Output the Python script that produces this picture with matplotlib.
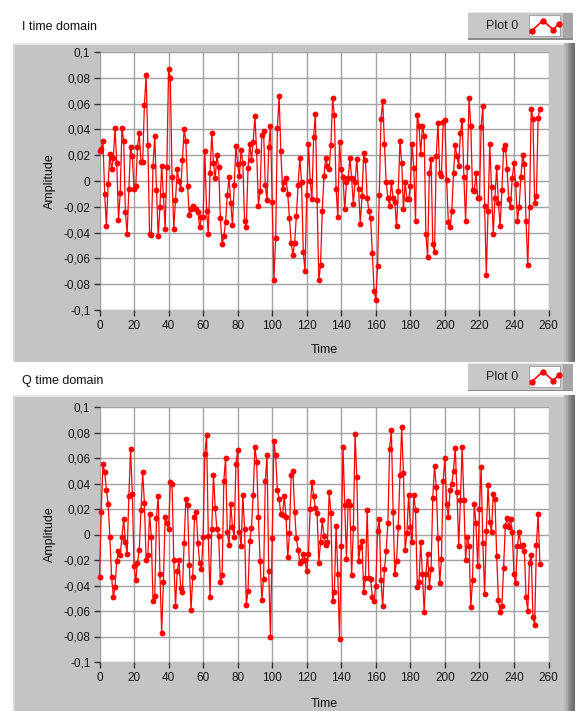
import numpy as np
import matplotlib
matplotlib.use("Agg")
import matplotlib.pyplot as plt
from matplotlib.patches import Rectangle
from matplotlib.lines import Line2D

# ---------------- data ----------------
i_seg_a = [0.023, 0.025, 0.031, -0.010, -0.035, -0.002, 0.021, 0.009, 0.018, 0.041,
           0.014, -0.030, -0.009, 0.041, 0.031, -0.024, -0.041, -0.006, 0.026, 0.019,
           -0.006, -0.004, 0.026, 0.037, 0.015, 0.015, 0.059, 0.082, 0.028, -0.041,
           -0.042, 0.012, 0.035, -0.007, -0.043, -0.020, 0.012, -0.011, -0.037, 0.011,
           0.087, 0.080, 0.003, -0.037, -0.015, 0.009, 0.000, -0.006, 0.016, 0.040,
           0.031, -0.004, -0.026, -0.022, -0.019, -0.021, -0.022, -0.024, -0.036, -0.028,
           -0.028]
i_seg_b = [0.023, -0.023, -0.041, 0.006, 0.037, 0.014, 0.002, 0.020, 0.011, -0.029,
           -0.049, -0.043, -0.032, -0.011, 0.003, -0.017, -0.034, -0.003, 0.027, 0.013,
           0.004, 0.024, 0.014, -0.031, -0.036, 0.010, 0.029, 0.016, 0.030, 0.050,
           0.023, -0.019, -0.008, 0.036, 0.039, -0.003, -0.015, 0.026, 0.043, -0.016,
           -0.077, -0.044, 0.041, 0.066, 0.023, -0.006, -0.001, 0.002, -0.010, -0.029,
           -0.048, -0.057, -0.048, -0.027, -0.003, 0.018, -0.001, -0.055, -0.070, -0.011,
           0.029, 0.000, -0.014, 0.034]
i_seg_c = [0.052, -0.015, -0.077, -0.065, -0.023, 0.004, 0.018, 0.012, 0.009, 0.028,
           0.064, 0.051, -0.006, -0.028, 0.030, 0.009, 0.003, -0.022, -0.001, 0.002,
           0.018, 0.002, -0.018, -0.001, 0.017, -0.006, -0.033, -0.012, 0.022, 0.016,
           -0.013, -0.023, -0.029, -0.056, -0.085, -0.092, -0.066, -0.011, 0.048, 0.062,
           0.029, -0.001, -0.013, -0.019, -0.001, -0.013, -0.016, -0.035, -0.008, 0.031,
           0.014, -0.022, -0.001, -0.014, -0.014, -0.004, 0.029, 0.010, -0.031, 0.051,
           0.043, 0.021, 0.043]
i_seg_d = [0.035, -0.041, -0.059, 0.006, 0.017, -0.049, -0.055, 0.019, 0.045, 0.006,
           0.004, 0.046, 0.047, 0.001, -0.032, -0.036, -0.023, 0.006, 0.028, 0.019,
           0.012, 0.037, 0.047, 0.003, -0.031, 0.011, 0.064, 0.043, -0.007, -0.008,
           0.006, -0.013, -0.013, 0.042, 0.058, -0.019, -0.073, -0.023, 0.029, -0.005,
           -0.041, -0.013, 0.011, -0.017, -0.035, -0.007, 0.025, 0.028, 0.009, -0.014,
           -0.020, 0.002, 0.014, -0.002, -0.031, -0.020, 0.003, 0.020, 0.013, -0.031,
           -0.065, -0.020, 0.056, 0.048, -0.017, -0.012, 0.049, 0.056]

q_seg_a = [-0.033, 0.018, 0.055, 0.049, 0.035, 0.024, -0.002, -0.033, -0.049, -0.041,
           -0.021, -0.013, -0.016, -0.002, 0.012, -0.006, -0.015, 0.030, 0.067, 0.032,
           -0.025, -0.036, -0.022, -0.012, 0.019, 0.049, 0.025, -0.020, -0.016, 0.016,
           -0.002, -0.052, -0.048, 0.013, 0.030, -0.031, -0.077, -0.037, 0.014, 0.009,
           0.004, 0.041, 0.040, -0.020, -0.056, -0.029, -0.020, -0.042, -0.045, -0.007,
           0.028, 0.023, -0.024, -0.059, -0.033, 0.014, 0.018, -0.007, -0.022, -0.027,
           -0.002]
q_seg_b = [0.063, 0.078, -0.001, -0.049, 0.004, 0.047, 0.021, 0.004, -0.001, -0.037,
           -0.032, 0.042, 0.060, 0.002, -0.008, 0.024, 0.006, -0.002, 0.055, 0.066,
           0.002, -0.009, 0.031, 0.004, -0.055, -0.044, -0.005, 0.005, 0.031, 0.069,
           0.057, 0.014, -0.021, -0.051, -0.035, 0.042, 0.062, -0.029, -0.080, -0.003,
           0.073, 0.062, 0.035, 0.028, 0.016, 0.015, 0.030, 0.014, -0.018, 0.001,
           0.047, 0.050, 0.018, -0.003, -0.012, -0.022, -0.021, -0.015, -0.020, -0.029,
           -0.015, 0.020, 0.041, 0.030]
q_seg_c = [0.021, 0.017, -0.022, -0.006, 0.011, -0.001, -0.008, -0.006, 0.033, 0.017,
           -0.052, -0.045, 0.007, -0.031, -0.082, -0.009, 0.069, 0.023, -0.019, 0.026,
           0.023, -0.032, 0.005, 0.079, 0.045, -0.021, -0.010, -0.005, -0.045, -0.034,
           0.019, -0.034, -0.035, -0.049, -0.052, -0.040, 0.003, 0.012, -0.036, -0.056,
           -0.027, -0.013, 0.009, 0.067, 0.082, 0.018, -0.031, -0.021, 0.006, 0.047,
           0.084, 0.048, -0.012, 0.001, 0.031, 0.006, -0.006, 0.031, 0.019, -0.041,
           -0.037, -0.006, -0.031]
q_seg_d = [-0.061, -0.031, -0.015, -0.041, -0.027, 0.029, 0.054, 0.037, -0.003, -0.038,
           -0.019, 0.042, 0.060, 0.024, 0.014, 0.035, 0.040, 0.050, 0.068, 0.033,
           -0.009, 0.027, 0.069, 0.027, -0.020, -0.002, -0.009, -0.057, -0.036, 0.024,
           0.009, -0.025, 0.020, 0.053, -0.007, -0.047, 0.003, 0.039, 0.010, 0.002,
           0.032, 0.028, -0.017, -0.051, -0.061, -0.056, -0.026, 0.007, 0.013, 0.006,
           0.012, 0.002, -0.031, -0.038, -0.009, 0.002, -0.009, -0.008, -0.013, -0.049,
           -0.060, -0.022, -0.016, -0.065, -0.071, -0.008, 0.016, -0.023]

i_values = i_seg_a + i_seg_b + i_seg_c + i_seg_d
q_values = q_seg_a + q_seg_b + q_seg_c + q_seg_d

x_ticks = [0, 20, 40, 60, 80, 100, 120, 140, 160, 180, 200, 220, 240, 260]
y_ticks = [0.1, 0.08, 0.06, 0.04, 0.02, 0.0, -0.02, -0.04, -0.06, -0.08, -0.1]
y_tick_labels = ["0,1", "0,08", "0,06", "0,04", "0,02", "0",
                 "-0,02", "-0,04", "-0,06", "-0,08", "-0,1"]
titles = ["I time domain", "Q time domain"]
legend_label = "Plot 0"
x_label = "Time"
y_label = "Amplitude"

# ---------------- layout helpers ----------------
W, H = 579, 711
fig = plt.figure(figsize=(W / 100, H / 100), dpi=100)
fig.patch.set_facecolor("white")
FONT = "Liberation Sans"
PANEL = "#c4c4c4"
RED = "#ff0000"


def fx(px):
    return px / W


def fy(py):
    return 1 - py / H


def frect(x0, y0, x1, y1, **kw):
    r = Rectangle((fx(x0), fy(y1)), fx(x1) - fx(x0), fy(y0) - fy(y1),
                  transform=fig.transFigure, **kw)
    fig.patches.append(r)
    return r


def panel(top, bottom):
    frect(13, top, 575, bottom, facecolor=PANEL, edgecolor="none", zorder=0)
    frect(13, top, 575, top + 1.5, facecolor="#e6e6e6", edgecolor="none", zorder=0.1)
    frect(13, top, 14.5, bottom, facecolor="#d8d8d8", edgecolor="none", zorder=0.1)
    shades = ["#b8b8b8", "#a8a8a8", "#989898", "#888888", "#7a7a7a", "#6e6e6e"]
    for k, c in enumerate(shades):
        frect(564 + k * 1.8, top, 564 + (k + 1) * 1.8, bottom,
              facecolor=c, edgecolor="none", zorder=0.1)


def legend_box(top):
    bot = top + 28
    frect(468, top, 573, bot, facecolor="#c8c8c8", edgecolor="none", zorder=0.2)
    frect(468, top, 573, top + 1, facecolor="#e8e8e8", edgecolor="none", zorder=0.3)
    frect(468, bot - 1.5, 573, bot, facecolor="#8a8a8a", edgecolor="none", zorder=0.3)
    frect(563, top, 573, bot, facecolor="#a6a6a6", edgecolor="none", zorder=0.25)
    frect(529, top + 3, 560, bot - 4, facecolor="white", edgecolor="#9a9a9a",
          linewidth=0.6, zorder=0.4)
    fig.text(fx(502), fy(top + 14), legend_label, ha="center", va="center",
             fontsize=9, family=FONT, color="#202020")
    sx = [532, 543, 553, 559]
    sy = [top + 18.5, top + 8.5, top + 17.5, top + 12]
    fig.lines.append(Line2D([fx(v) for v in sx], [fy(v) for v in sy],
                            transform=fig.transFigure, color=RED, lw=1.2,
                            marker="o", markersize=3.6, zorder=5))


panel(43, 362)
panel(395, 711)
legend_box(12)
legend_box(363)

fig.text(fx(22), fy(27), titles[0], ha="left", va="center", fontsize=9,
         family=FONT, color="#101010")
fig.text(fx(22), fy(381), titles[1], ha="left", va="center", fontsize=9,
         family=FONT, color="#101010")

boxes = [(99.5, 52, 548.5, 310), (99.5, 407, 548.5, 662)]
series = [i_values, q_values]
xlabel_y = [350, 704]

for (l, t, r, b), vals, xly in zip(boxes, series, xlabel_y):
    ax = fig.add_axes([fx(l), fy(b), fx(r) - fx(l), fy(t) - fy(b)])
    ax.set_zorder(2)
    ax.set_facecolor("white")
    x = np.arange(len(vals))
    ax.plot(x, vals, color=RED, lw=0.9, marker="o", markersize=4.2,
            markeredgewidth=0, zorder=3, clip_on=False)
    ax.set_xlim(0, 260)
    ax.set_ylim(-0.1, 0.1)
    ax.set_xticks(x_ticks)
    ax.set_xticklabels([str(v) for v in x_ticks])
    ax.set_yticks(y_ticks)
    ax.set_yticklabels(y_tick_labels)
    ax.grid(True, color="#a3a3a3", lw=1.0, zorder=1)
    ax.set_axisbelow(True)
    for s in ax.spines.values():
        s.set_visible(False)
    ax.tick_params(axis="both", direction="out", length=4.5, width=1.0,
                   color="#303030", labelsize=8.5, labelcolor="#151515", pad=2)
    ax.tick_params(axis="x", pad=3)
    for lab in ax.get_xticklabels() + ax.get_yticklabels():
        lab.set_family(FONT)
    fig.text(fx((l + r) / 2), fy(xly), x_label, ha="center", va="center",
             fontsize=9, family=FONT, color="#101010", zorder=5)
    fig.text(fx(50), fy((t + b) / 2), y_label, ha="center", va="center",
             rotation=90, fontsize=9, family=FONT, color="#101010", zorder=5)

fig.savefig("out.png", dpi=100, facecolor=fig.get_facecolor())
